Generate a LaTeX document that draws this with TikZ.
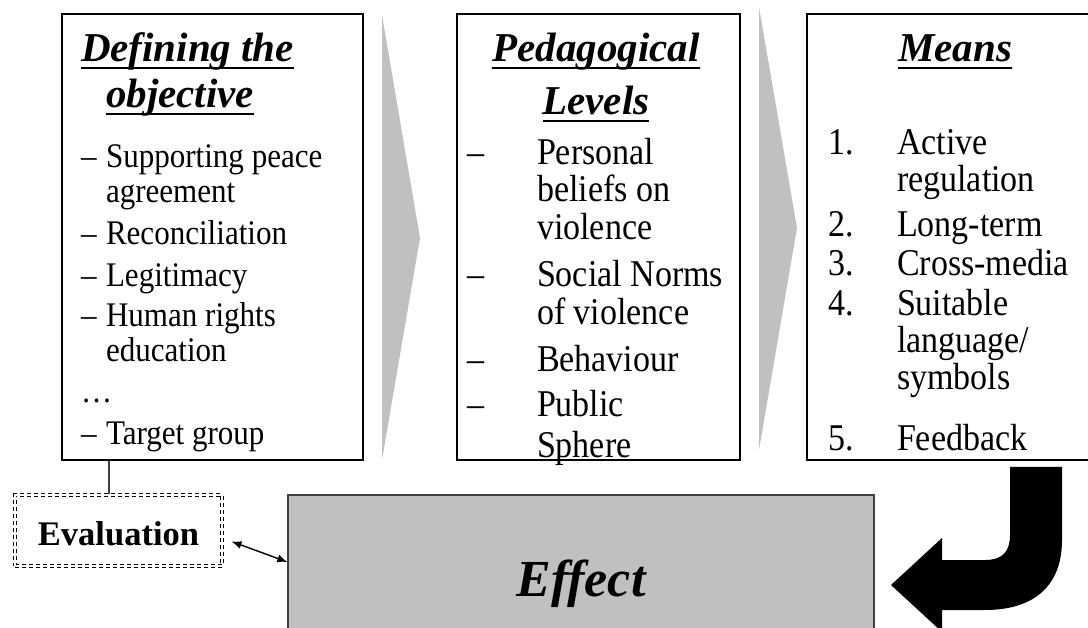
\documentclass[tikz,border=0pt]{standalone}
\usepackage{fontspec}
% body text: slightly condensed so that taller letters keep the same line widths
\setmainfont{Liberation Serif}[FakeStretch=0.9]
\newfontfamily\headfont{Liberation Serif}
\usetikzlibrary{arrows.meta,calc}

\definecolor{chevgray}{HTML}{C0C0C0}
\definecolor{edgegray}{HTML}{404040}

% underlined heading text with a rule that runs through the descenders
\newcommand\ultitle[1]{\setbox0\hbox{#1}\rlap{\rule[-7pt]{\wd0}{2pt}}\box0}

\begin{document}
\begin{tikzpicture}[x=1pt,y=-1pt,
  panel/.style={draw=black, line width=1.3pt, fill=white, inner sep=0pt},
  txt/.style={anchor=base west, inner sep=0pt, outer sep=0pt},
  ctxt/.style={anchor=base, inner sep=0pt, outer sep=0pt},
  head/.style={font=\headfont\fontsize{41}{45}\selectfont\bfseries\itshape},
  smallbody/.style={font=\fontsize{34.5}{38}\selectfont},
  body/.style={font=\fontsize{37.8}{41}\selectfont},
  chev/.style={fill=chevgray, draw=none},
  link/.style={draw=edgegray, line width=1.2pt},
  dblarrow/.style={draw=black, line width=1.4pt, {Latex[length=10pt,width=8pt]}-{Latex[length=10pt,width=8pt]}}
]
\useasboundingbox (0,0) rectangle (1088,628);

% grey chevrons between the panels
\path[chev] (382,15) -- (420,238) -- (382,460) -- cycle;
\path[chev] (759,7) -- (797,228) -- (759,450) -- cycle;

% the three panels
\node[panel, minimum width=301pt, minimum height=446pt] (obj) at (212.5,237) {};
\node[panel, minimum width=283pt, minimum height=446pt] (ped) at (598.5,237) {};
\node[panel, minimum width=288pt, minimum height=446pt] (means) at (951,237) {};

% panel 1: objectives
\node[txt,head] (t1a) at (81,62) {\ultitle{Defining the}};
\node[txt,head] (t1b) at (106,108) {\ultitle{objective}};
\node[txt,smallbody] (od1) at (81,168) {–};
\node[txt,smallbody] (o1)  at (106,168) {Supporting peace};
\node[txt,smallbody] (o1b) at (106,203) {agreement};
\node[txt,smallbody] (od2) at (81,245) {–};
\node[txt,smallbody] (o2)  at (106,245) {Reconciliation};
\node[txt,smallbody] (od3) at (81,287) {–};
\node[txt,smallbody] (o3)  at (106,287) {Legitimacy};
\node[txt,smallbody] (od4) at (81,327) {–};
\node[txt,smallbody] (o4)  at (106,327) {Human rights};
\node[txt,smallbody] (o4b) at (106,362) {education};
\node[txt,smallbody] (oel) at (81,403) {…};
\node[txt,smallbody] (od5) at (81,445) {–};
\node[txt,smallbody] (o5)  at (106,445) {Target group};

% panel 2: pedagogical levels
\node[ctxt,head] (t2a) at (596,62) {\ultitle{Pedagogical}};
\node[ctxt,head] (t2b) at (596,115) {\ultitle{Levels}};
\node[txt,body] (pd1) at (467,165) {–};
\node[txt,body] (p1)  at (537,165) {Personal};
\node[txt,body] (p1b) at (537,202) {beliefs on};
\node[txt,body] (p1c) at (537,240) {violence};
\node[txt,body] (pd2) at (467,287) {–};
\node[txt,body] (p2)  at (537,287) {Social Norms};
\node[txt,body] (p2b) at (537,325) {of violence};
\node[txt,body] (pd3) at (467,372) {–};
\node[txt,body] (p3)  at (537,372) {Behaviour};
\node[txt,body] (pd4) at (467,417) {–};
\node[txt,body] (p4)  at (537,417) {Public};
\node[txt,body] (p4b) at (537,457) {Sphere};

% panel 3: means
\node[ctxt,head] (t3) at (955,62) {\ultitle{Means}};
\node[txt,body] (mn1) at (828,155) {1.};
\node[txt,body] (m1)  at (897,155) {Active};
\node[txt,body] (m1b) at (897,192) {regulation};
\node[txt,body] (mn2) at (828,237) {2.};
\node[txt,body] (m2)  at (897,237) {Long-term};
\node[txt,body] (mn3) at (828,276) {3.};
\node[txt,body] (m3)  at (897,276) {Cross-media};
\node[txt,body] (mn4) at (828,316) {4.};
\node[txt,body] (m4)  at (897,316) {Suitable};
\node[txt,body] (m4b) at (897,353) {language/};
\node[txt,body] (m4c) at (897,390) {symbols};
\node[txt,body] (mn5) at (828,451) {5.};
\node[txt,body] (m5)  at (897,451) {Feedback};

% evaluation box (double dashed frame)
\node[draw=black, line width=1.1pt, double, double distance=2pt,
      dash pattern=on 4pt off 3pt, minimum width=207pt, minimum height=71pt,
      inner sep=0pt, text height=29pt, text depth=0pt,
      font=\headfont\fontsize{34.5}{37}\selectfont\bfseries] (eval) at (118.5,530.5) {Evaluation};

% effect box
\node[draw=edgegray, line width=1.3pt, fill=chevgray, minimum width=586pt,
      minimum height=170pt, inner sep=0pt] (effect) at (581,580) {};
\node[ctxt, font=\headfont\fontsize{52}{56}\selectfont\bfseries\itshape] (efflabel) at (581,596) {Effect};

% connectors
\coordinate (evx) at (109,0);
\draw[link] (obj.south -| evx) -- (eval.north -| evx);
\draw[dblarrow] ($(eval.east)+(9,11)$) -- ($(effect.west)+(0,-18)$);

% black bent arrow from the means panel back to the effect box
\fill[black] (1010,467) -- (1062,467) -- (1062,540)
  .. controls (1062,585) and (1035,610) .. (985,610)
  -- (942,610) -- (942,632) -- (891,585) -- (942,538) -- (942,560) -- (985,560)
  .. controls (1002,560) and (1010,552) .. (1010,535) -- cycle;
\end{tikzpicture}
\end{document}
